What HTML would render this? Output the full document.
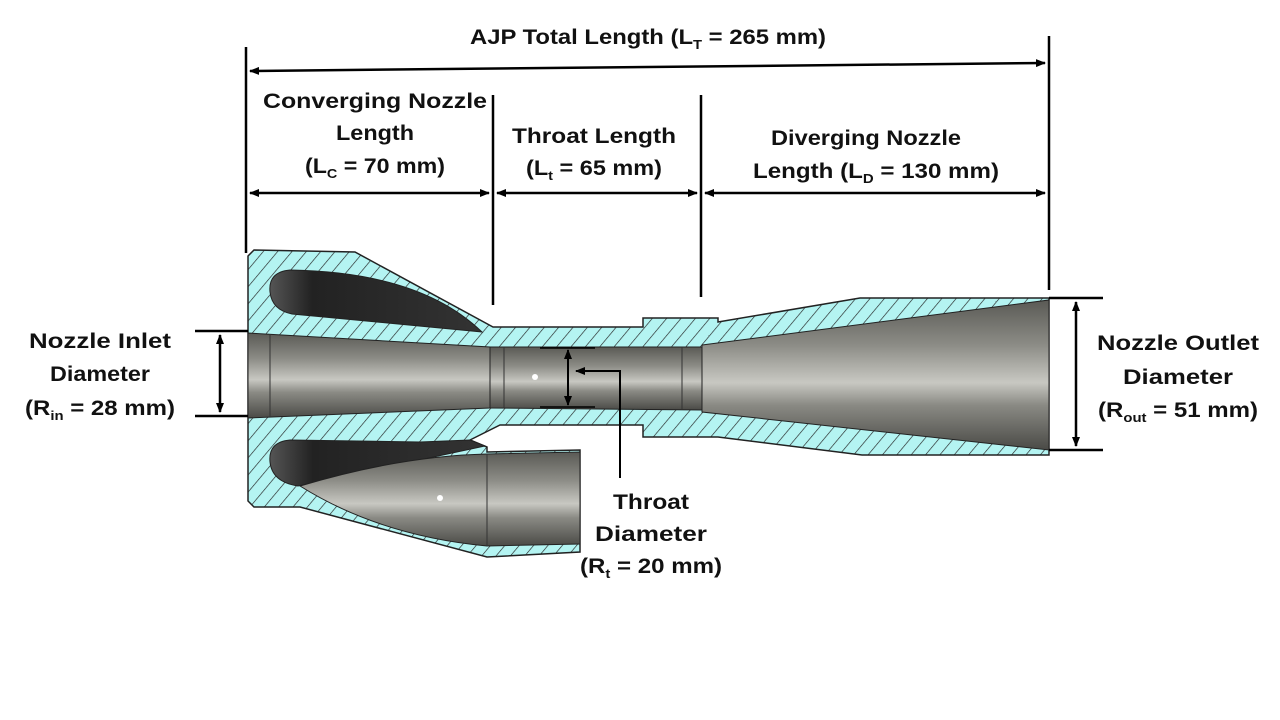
<!DOCTYPE html>
<html><head><meta charset="utf-8"><style>
html,body{margin:0;padding:0;background:#fff;}
svg{display:block}
text{font-family:"Liberation Sans",sans-serif;font-weight:bold;font-size:21px;fill:#111;text-anchor:middle}
</style></head><body>
<svg width="1280" height="720" viewBox="0 0 1280 720" xmlns="http://www.w3.org/2000/svg">
<defs>
<pattern id="h" patternUnits="userSpaceOnUse" width="11" height="11" patternTransform="rotate(40)">
<rect width="11" height="11" fill="#b4f4f2"/><line x1="0" y1="0" x2="0" y2="11" stroke="#222" stroke-width="1.3"/>
</pattern>
<linearGradient id="g" x1="0" y1="0" x2="0" y2="1">
<stop offset="0" stop-color="#5a5a55"/><stop offset="0.3" stop-color="#8c8c86"/><stop offset="0.55" stop-color="#c8c8c2"/><stop offset="0.7" stop-color="#8a8a84"/><stop offset="1" stop-color="#4a4a46"/>
</linearGradient>
<linearGradient id="d" x1="0" y1="0" x2="1" y2="0">
<stop offset="0" stop-color="#555"/><stop offset="0.2" stop-color="#222"/><stop offset="1" stop-color="#333"/>
</linearGradient>
<marker id="a" markerWidth="10" markerHeight="8" refX="9" refY="4" orient="auto-start-reverse" markerUnits="userSpaceOnUse"><path d="M0,0 L10,4 L0,8 Z" fill="#000"/></marker>
</defs>

<!-- body hatch -->
<path d="M248,256 L254,250 L355,252 L493,327 L643,327 L643,318 L718,318 L718,322 L860,298 L1049,298 L1049,455 L862,455 L718,437 L643,437 L643,425 L500,425 L470,440 L487,447 L487,452 L580,450 L580,552 L487,557 L300,507 L254,507 L248,501 Z" fill="url(#h)" stroke="#222" stroke-width="1.5"/>
<!-- upper cavity -->
<path d="M290,270 Q268,272 270,292 Q272,310 292,314 L482,332 Q420,272 290,270 Z" fill="url(#d)" stroke="#222" stroke-width="1"/>
<!-- lower cavity + side pipe -->
<path d="M290,440 Q268,442 270,462 Q272,482 298,486 L485,446 L470,440 L420,442 Z" fill="url(#d)" stroke="#222" stroke-width="1"/>
<path d="M300,486 Q400,456 487,454 L580,452 L580,544 L487,546 Q380,536 300,486 Z" fill="url(#g)" stroke="#222" stroke-width="1"/>
<line x1="487" y1="454" x2="487" y2="546" stroke="#333"/>
<circle cx="440" cy="498" r="3" fill="#fff"/>
<!-- bores -->
<path d="M248,333 L490,347 L490,408 L248,418 Z" fill="url(#g)" stroke="#222" stroke-width="1"/>
<line x1="270" y1="334" x2="270" y2="417" stroke="#333"/>
<path d="M490,347 L702,347 L702,410 L490,408 Z" fill="url(#g)" stroke="#222" stroke-width="1"/>
<line x1="504" y1="347" x2="504" y2="408" stroke="#333"/>
<line x1="682" y1="347" x2="682" y2="409" stroke="#333"/>
<circle cx="535" cy="377" r="3" fill="#fff"/>
<path d="M702,345 L1049,300 L1049,450 L702,412 Z" fill="url(#g)" stroke="#222" stroke-width="1"/>

<!-- dimension lines -->
<g stroke="#000" stroke-width="2.5" fill="none">
<line x1="246" y1="47" x2="246" y2="253"/>
<line x1="1049" y1="36" x2="1049" y2="290"/>
<line x1="493" y1="95" x2="493" y2="305"/>
<line x1="701" y1="95" x2="701" y2="297"/>
<line x1="250" y1="71" x2="1045" y2="63" marker-start="url(#a)" marker-end="url(#a)"/>
<line x1="250" y1="193" x2="489" y2="193" marker-start="url(#a)" marker-end="url(#a)"/>
<line x1="497" y1="193" x2="697" y2="193" marker-start="url(#a)" marker-end="url(#a)"/>
<line x1="705" y1="193" x2="1045" y2="193" marker-start="url(#a)" marker-end="url(#a)"/>
<line x1="195" y1="331" x2="248" y2="331"/>
<line x1="195" y1="416" x2="248" y2="416"/>
<line x1="220" y1="335" x2="220" y2="412" marker-start="url(#a)" marker-end="url(#a)"/>
<line x1="1049" y1="298" x2="1103" y2="298"/>
<line x1="1049" y1="450" x2="1103" y2="450"/>
<line x1="1076" y1="302" x2="1076" y2="446" marker-start="url(#a)" marker-end="url(#a)"/>
<line x1="568" y1="350" x2="568" y2="405" marker-start="url(#a)" marker-end="url(#a)" stroke-width="2"/>
<polyline points="620,478 620,371 576,371" marker-end="url(#a)" stroke-width="2"/>
</g>
<line x1="540" y1="348" x2="595" y2="348" stroke="#000" stroke-width="1.5"/>
<line x1="540" y1="407" x2="595" y2="407" stroke="#000" stroke-width="1.5"/>

<!-- labels -->
<text x="648" y="44" textLength="356" lengthAdjust="spacingAndGlyphs">AJP Total Length (L<tspan font-size="13" dy="5">T</tspan><tspan dy="-5"> = 265 mm)</tspan></text>
<text x="375" y="108" textLength="224" lengthAdjust="spacingAndGlyphs">Converging Nozzle</text>
<text x="375" y="140" textLength="78" lengthAdjust="spacingAndGlyphs">Length</text>
<text x="375" y="173" textLength="140" lengthAdjust="spacingAndGlyphs">(L<tspan font-size="13" dy="5">C</tspan><tspan dy="-5"> = 70 mm)</tspan></text>
<text x="594" y="143" textLength="164" lengthAdjust="spacingAndGlyphs">Throat Length</text>
<text x="594" y="175" textLength="136" lengthAdjust="spacingAndGlyphs">(L<tspan font-size="13" dy="5">t</tspan><tspan dy="-5"> = 65 mm)</tspan></text>
<text x="866" y="145" textLength="190" lengthAdjust="spacingAndGlyphs">Diverging Nozzle</text>
<text x="876" y="178" textLength="246" lengthAdjust="spacingAndGlyphs">Length (L<tspan font-size="13" dy="5">D</tspan><tspan dy="-5"> = 130 mm)</tspan></text>
<text x="100" y="348" textLength="142" lengthAdjust="spacingAndGlyphs">Nozzle Inlet</text>
<text x="100" y="381" textLength="100" lengthAdjust="spacingAndGlyphs">Diameter</text>
<text x="100" y="415" textLength="150" lengthAdjust="spacingAndGlyphs">(R<tspan font-size="13" dy="5">in</tspan><tspan dy="-5"> = 28 mm)</tspan></text>
<text x="1178" y="350" textLength="162" lengthAdjust="spacingAndGlyphs">Nozzle Outlet</text>
<text x="1178" y="384" textLength="110" lengthAdjust="spacingAndGlyphs">Diameter</text>
<text x="1178" y="417" textLength="160" lengthAdjust="spacingAndGlyphs">(R<tspan font-size="13" dy="5">out</tspan><tspan dy="-5"> = 51 mm)</tspan></text>
<text x="651" y="509" textLength="76" lengthAdjust="spacingAndGlyphs">Throat</text>
<text x="651" y="541" textLength="112" lengthAdjust="spacingAndGlyphs">Diameter</text>
<text x="651" y="573" textLength="142" lengthAdjust="spacingAndGlyphs">(R<tspan font-size="13" dy="5">t</tspan><tspan dy="-5"> = 20 mm)</tspan></text>
</svg>
</body></html>
